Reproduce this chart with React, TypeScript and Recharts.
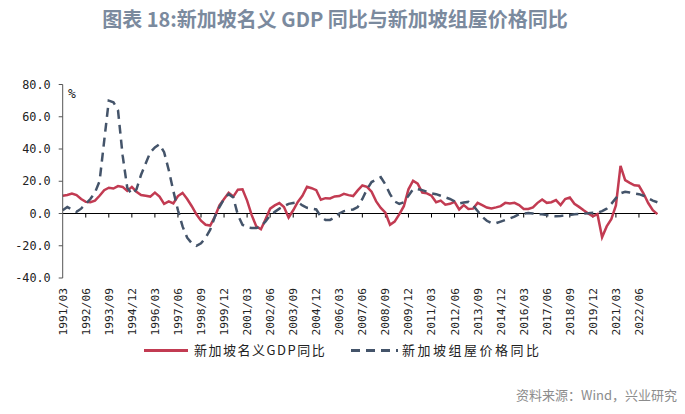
import { LineChart, Line, XAxis, YAxis, ReferenceLine } from "recharts"

// quarterly labels 1991/03 .. 2023/06
const years = Array.from({ length: 33 }, (_, k) => 1991 + k)
const quarters = years.flatMap((y) => ["03", "06", "09", "12"].map((m) => `${y}/${m}`)).slice(0, 130)

// 新加坡名义GDP同比 (%)
const gdpYoY = [
  11, 11.5, 12.4, 11.4, 9, 7.2, 7, 8, 11, 14.5,
  16, 15.5, 17, 16.5, 14, 16.5, 13.5, 11.5, 11, 10.5,
  13, 10.5, 6, 7.5, 6.2, 10.8, 12.8, 9, 4.5, -0.5,
  -4.5, -7, -7.5, -2, 5, 9, 12.8, 10.5, 14.8, 15,
  8, -1, -8, -9.8, -3.5, 3, 5, 6.5, 4, -2.5,
  2, 7.2, 11, 16.6, 15.7, 14.5, 8.5, 9.5, 9.3, 10.6,
  10.8, 12.2, 11.4, 10.8, 14.3, 17.4, 16.5, 13.5, 7.5, 3.5,
  0.5, -7, -5, -0.5, 4.5, 15, 20.3, 18.5, 13, 12.5,
  11, 7, 8, 5.5, 6, 7.2, 2.5, 5.2, 2.8, 3,
  6.6, 5.2, 3.7, 3.1, 3.8, 4.6, 6.6, 6.2, 6.6, 5.2,
  2.8, 2.8, 3.8, 6.6, 8.7, 6.6, 7, 8.3, 5.2, 9,
  9.9, 6, 4.1, 2, 0, -1.8, -0.4, -14.7, -8, -3.5,
  5, 29.5, 20.7, 19, 17.5, 17.2, 12.4, 6.5, 2, -0.4,
]

// 新加坡组屋价格同比 (%)
const hdbYoY = [
  2, 4, 2.5, 1, 3, 6, 9, 13, 20, 45,
  70, 69, 64, 36, 16, 12, 15, 24, 31, 38,
  41, 43, 38, 27, 14, 2, -8, -15, -18.5, -20,
  -18.5, -15, -10, -2, 4, 9, 12, 10, -1, -7,
  -8.5, -9, -9, -8, -5, -1, 1, 3, 4.5, 6,
  6.5, 7, 5, 3.5, 3, 2.5, -2, -4, -4, -2.5,
  0, 1.5, 2, 2.5, 4, 9, 15, 19.5, 21, 22.5,
  18, 12, 7.5, 6, 7, 11, 15, 15, 14.5, 13.5,
  12.5, 12, 11, 10, 9, 7.5, 6.2, 6.8, 7.2, 5,
  1.5, -2, -4.5, -6, -6, -5, -4, -3, -2, -0.5,
  0, 0.3, 0, -0.5, -0.5, -1, -1.5, -1.7, -1.5, -1.2,
  -1, -0.5, -0.3, 0, 0.2, 0.5, 0.5, 1.5, 3, 6,
  9.5, 12.5, 13.5, 13, 12.5, 12, 11, 9.5, 8, 7,
]

const yTicks = [-40, -20, 0, 20, 40, 60, 80]
const zeroTicks = quarters.filter((_, i) => i > 0 && i % 5 === 0)

const RED = "#C23B52"
const SLATE = "#44546A"
const MONO = "DejaVu Sans Mono"
const CJK = "Noto Sans CJK SC"

const data = quarters.map((q, i) => ({ q, gdp: gdpYoY[i], hdb: hdbYoY[i] }))

function QuarterTick({ x, y, payload }: any) {
  return (
    <text x={x} y={y} transform={`rotate(-90 ${x} ${y})`} textAnchor="end" dy="0.35em"
      fontSize={11.3} fontFamily={MONO} fill="#222">
      {payload.value}
    </text>
  )
}

export default function App() {
  return (
    <div style={{ position: "absolute", left: 0, top: 0, width: 685, height: 414, background: "#fff" }}>
      <LineChart width={685} height={414} data={data} margin={{ top: 84.5, right: 27.6, bottom: 76, left: 0 }}>
        <XAxis dataKey="q" interval={4} axisLine={false} tickLine={false} tickSize={0} tickMargin={10}
          height={60} tick={<QuarterTick />} />
        <YAxis type="number" domain={[-40, 80]} ticks={yTicks} width={62.7} tickSize={4} tickMargin={8}
          tickFormatter={(v: number) => v.toFixed(1)}
          axisLine={{ stroke: "#555" }} tickLine={{ stroke: "#555" }}
          tick={{ fontSize: 11.8, fontFamily: MONO, fill: "#222" }} />
        <ReferenceLine y={0} stroke="#000" strokeWidth={1} />
        {zeroTicks.map((q) => (
          <ReferenceLine key={q} segment={[{ x: q, y: 0 }, { x: q, y: -2.5 }]} stroke="#000" strokeWidth={1} />
        ))}
        <Line dataKey="gdp" stroke={RED} strokeWidth={2.5} dot={false} isAnimationActive={false} />
        <Line dataKey="hdb" stroke={SLATE} strokeWidth={2.5} strokeDasharray="9 6" dot={false} isAnimationActive={false} />
      </LineChart>
      <svg width={685} height={414} style={{ position: "absolute", left: 0, top: 0, pointerEvents: "none" }}>
        <text x={335} y={27} textAnchor="middle" fontSize={20} fontWeight={600} fontFamily={CJK} fill="#7B8A9E">
          图表 18:新加坡名义 GDP 同比与新加坡组屋价格同比
        </text>
        <text x={68} y={98} fontSize={13} fontFamily={MONO} fill="#222">%</text>
        <line x1={144} x2={188} y1={350.5} y2={350.5} stroke={RED} strokeWidth={3} />
        <text x={194} y={355} fontSize={13} letterSpacing={1.5} fontFamily={CJK} fill="#222">新加坡名义GDP同比</text>
        <line x1={351} x2={398} y1={350.5} y2={350.5} stroke={SLATE} strokeWidth={3} strokeDasharray="9 6" />
        <text x={402} y={355} fontSize={13} letterSpacing={2.5} fontFamily={CJK} fill="#222">新加坡组屋价格同比</text>
        <text x={677} y={400} textAnchor="end" fontSize={13} fontFamily={CJK} fill="#8C8C8C">资料来源：Wind，兴业研究</text>
      </svg>
    </div>
  )
}
